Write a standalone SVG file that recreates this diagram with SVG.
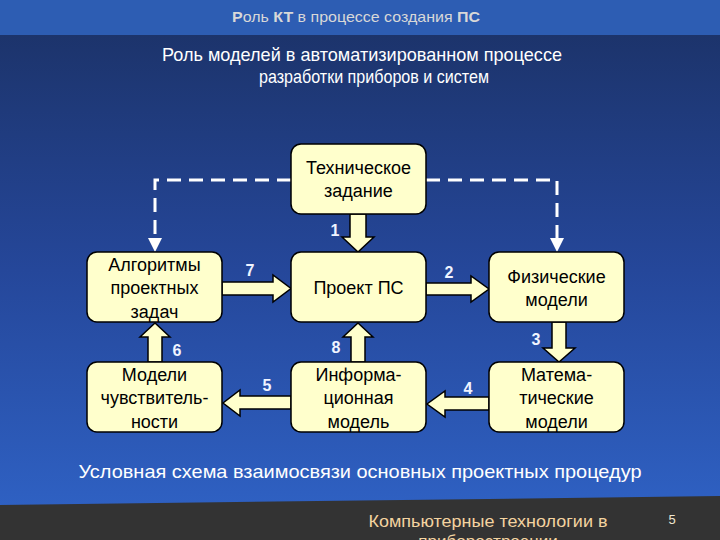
<svg xmlns="http://www.w3.org/2000/svg" width="720" height="540" viewBox="0 0 720 540">
<defs>
<linearGradient id="bg" x1="0" y1="0" x2="0" y2="1">
<stop offset="0" stop-color="#1b3165"/>
<stop offset="0.5" stop-color="#25479a"/>
<stop offset="1" stop-color="#3064c8"/>
</linearGradient>
<style>
.box{fill:#ffffcc;stroke:#000;stroke-width:1.5}
.bt{font-family:"Liberation Sans",Arial,sans-serif;font-size:18px;fill:#000;text-anchor:middle}
.blk{fill:#ffffcc;stroke:#000;stroke-width:1.5;stroke-linejoin:miter}
.num{font-family:"Liberation Sans",Arial,sans-serif;font-size:16px;font-weight:bold;fill:#f0f4ff;text-anchor:middle}
.dash{fill:none;stroke:#ffffff;stroke-width:3;stroke-dasharray:14 8}
.ttl{font-family:"Liberation Sans",Arial,sans-serif;font-size:19px;fill:#ffffff;text-anchor:middle}
</style>
</defs>
<rect x="0" y="0" width="720" height="540" fill="url(#bg)"/>
<rect x="0" y="0" width="720" height="35" fill="#2d5db3"/>
<polygon points="0,505 720,496 720,540 0,540" fill="#333333"/>
<text x="356" y="22" font-family="'Liberation Sans',Arial,sans-serif" font-size="15" fill="#d8d8d8" text-anchor="middle" textLength="248" lengthAdjust="spacingAndGlyphs"><tspan font-weight="bold">Р</tspan>оль <tspan font-weight="bold">КТ</tspan> в процессе создания <tspan font-weight="bold">ПС</tspan></text>
<text class="ttl" x="362" y="61" textLength="400" lengthAdjust="spacingAndGlyphs">Роль моделей в автоматизированном процессе</text>
<text class="ttl" x="374" y="83" textLength="230" lengthAdjust="spacingAndGlyphs">разработки приборов и систем</text>

<g id="connectors">
<polyline class="dash" points="291,180 155,180 155,238"/>
<polygon points="148,238 162,238 155,252" fill="#ffffff"/>
<polyline class="dash" points="426,180 557,180 557,238"/>
<polygon points="550,238 564,238 557,252" fill="#ffffff"/>
<polygon class="blk" points="350,214 366,214 366,237 374,237 358,252 342,237 350,237 350,214"/>
<polygon class="blk" points="222,282 273,282 273,275 291,288.5 273,302 273,295 222,295"/>
<polygon class="blk" points="426,283 471,283 471,276 489,289 471,302 471,295 426,295"/>
<polygon class="blk" points="552,322 566,322 566,348 575,348 559,362 543,348 552,348"/>
<polygon class="blk" points="489,397 445,397 445,391 427,404 445,417 445,410 489,410"/>
<polygon class="blk" points="291,396 240,396 240,390 223,403 240,416 240,409 291,409"/>
<polygon class="blk" points="148,362 162,362 162,337 170,337 155,323 140,337 148,337"/>
<polygon class="blk" points="351,362 365,362 365,337 373,337 358,323 343,337 351,337"/>
<text class="num" x="335" y="236">1</text>
<text class="num" x="250" y="276">7</text>
<text class="num" x="449" y="278">2</text>
<text class="num" x="536" y="345">3</text>
<text class="num" x="468" y="394">4</text>
<text class="num" x="267" y="391">5</text>
<text class="num" x="177" y="356">6</text>
<text class="num" x="336" y="353">8</text>
</g>

<g id="tz">
<rect class="box" x="291" y="144" width="135" height="70" rx="10"/>
<text class="bt" x="358.5" y="174">Техническое</text>
<text class="bt" x="358.5" y="197">задание</text>
</g>
<g id="alg">
<rect class="box" x="87" y="252" width="135" height="70" rx="10"/>
<text class="bt" x="154.5" y="271">Алгоритмы</text>
<text class="bt" x="154.5" y="294">проектных</text>
<text class="bt" x="154.5" y="318">задач</text>
</g>
<g id="proekt">
<rect class="box" x="291" y="252" width="135" height="70" rx="10"/>
<text class="bt" x="358.5" y="294">Проект ПС</text>
</g>
<g id="fiz">
<rect class="box" x="489" y="252" width="135" height="70" rx="10"/>
<text class="bt" x="556.5" y="283">Физические</text>
<text class="bt" x="556.5" y="306">модели</text>
</g>
<g id="chuv">
<rect class="box" x="87" y="362" width="135" height="70" rx="10"/>
<text class="bt" x="154.5" y="381">Модели</text>
<text class="bt" x="154.5" y="404">чувствитель-</text>
<text class="bt" x="154.5" y="428">ности</text>
</g>
<g id="inf">
<rect class="box" x="291" y="362" width="135" height="70" rx="10"/>
<text class="bt" x="358.5" y="381">Информа-</text>
<text class="bt" x="358.5" y="404">ционная</text>
<text class="bt" x="358.5" y="428">модель</text>
</g>
<g id="mat">
<rect class="box" x="489" y="362" width="135" height="70" rx="10"/>
<text class="bt" x="556.5" y="381">Матема-</text>
<text class="bt" x="556.5" y="404">тические</text>
<text class="bt" x="556.5" y="428">модели</text>
</g>

<text x="360" y="478" font-family="'Liberation Sans',Arial,sans-serif" font-size="19" fill="#ffffff" text-anchor="middle" textLength="563" lengthAdjust="spacingAndGlyphs">Условная схема взаимосвязи основных проектных процедур</text>
<text x="488" y="527" font-family="'Liberation Sans',Arial,sans-serif" font-size="17" fill="#f3d3a0" text-anchor="middle" textLength="239" lengthAdjust="spacingAndGlyphs">Компьютерные технологии в</text>
<text x="488" y="547" font-family="'Liberation Sans',Arial,sans-serif" font-size="17" fill="#f3d3a0" text-anchor="middle">приборостроении</text>
<text x="672" y="524" font-family="'Liberation Sans',Arial,sans-serif" font-size="13" fill="#f0e6d0" text-anchor="middle">5</text>
</svg>
